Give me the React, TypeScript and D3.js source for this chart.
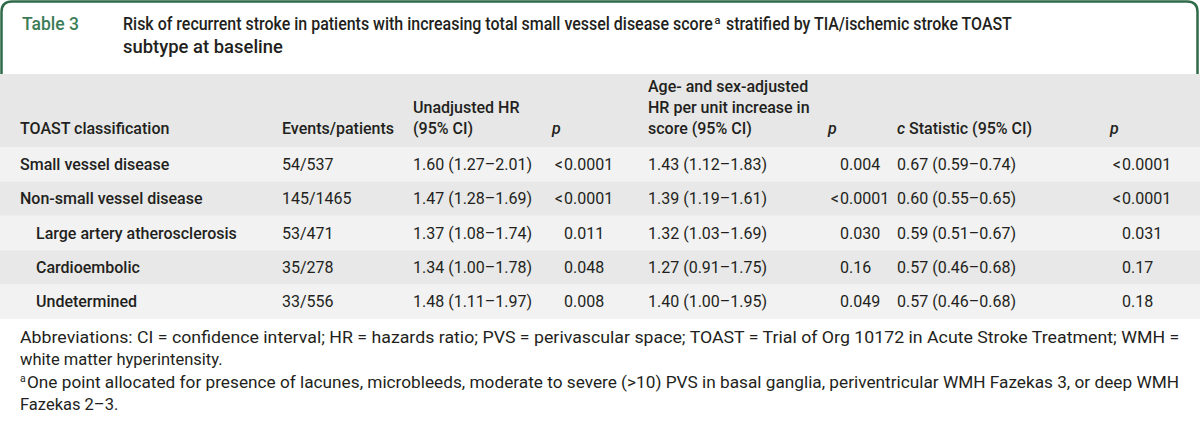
import React, { useLayoutEffect, useRef, useState } from "react";
import * as d3 from "d3";

const categories = [
  "Small vessel disease",
  "Non-small vessel disease",
  "Large artery atherosclerosis",
  "Cardioembolic",
  "Undetermined",
];
const subgroupFlags = [false, false, true, true, true];
const eventsPatients = ["54/537", "145/1465", "53/471", "35/278", "33/556"];
const unadjustedHR = [
  "1.60 (1.27–2.01)",
  "1.47 (1.28–1.69)",
  "1.37 (1.08–1.74)",
  "1.34 (1.00–1.78)",
  "1.48 (1.11–1.97)",
];
const unadjustedP = ["<0.0001", "<0.0001", "0.011", "0.048", "0.008"];
const adjustedHR = [
  "1.43 (1.12–1.83)",
  "1.39 (1.19–1.61)",
  "1.32 (1.03–1.69)",
  "1.27 (0.91–1.75)",
  "1.40 (1.00–1.95)",
];
const adjustedP = ["0.004", "<0.0001", "0.030", "0.16", "0.049"];
const cStatistic = [
  "0.67 (0.59–0.74)",
  "0.60 (0.55–0.65)",
  "0.59 (0.51–0.67)",
  "0.57 (0.46–0.68)",
  "0.57 (0.46–0.68)",
];
const cStatisticP = ["<0.0001", "<0.0001", "0.031", "0.17", "0.18"];

const columnKeys = ["class", "events", "uhr", "up", "ahr", "ap", "cs", "cp"];

const W = 1200;
const H = 421;
const FONT = "Roboto, 'Liberation Sans', Arial, sans-serif";
const TEXT = "#231f20";
const GREEN = "#2f6b48";

function FitText(props: any) {
  const { x, y, width, children, ...rest } = props;
  const ref = useRef<SVGTextElement>(null);
  const [sx, setSx] = useState(1);
  useLayoutEffect(() => {
    if (ref.current) {
      const w = ref.current.getComputedTextLength();
      if (w > 0) setSx(width / w);
    }
  }, [width]);
  return (
    <text ref={ref} transform={`translate(${x},${y}) scale(${sx},1)`} {...rest}>
      {children}
    </text>
  );
}

export default function App() {
  const x = d3
    .scaleOrdinal<string, number>()
    .domain(columnKeys)
    .range([20, 282, 413, 552, 648, 828, 897, 1110]);
  const y = d3.scaleBand<string>().domain(categories).range([147, 319]).padding(0);
  const lessW = 12;

  const pCell = (val: string, col: string, yy: number, key: string) => {
    const x0 = x(col) + lessW;
    if (val.startsWith("<")) {
      return (
        <g key={key}>
          <text x={x0 - 1} y={yy} textAnchor="end">{"<"}</text>
          <text x={x0} y={yy}>{val.slice(1)}</text>
        </g>
      );
    }
    return <text key={key} x={x0} y={yy}>{val}</text>;
  };

  return (
    <svg
      width={W}
      height={H}
      style={{ position: "absolute", left: 0, top: 0, background: "#fff" }}
      fontFamily={FONT}
    >
      {/* title box */}
      <path
        d={`M1.5,74 L1.5,12 Q1.5,1.5 12,1.5 L1187,1.5 Q1197.5,1.5 1197.5,12 L1197.5,74`}
        fill="#fff"
        stroke={GREEN}
        strokeWidth={2.5}
      />
      <text x={22} y={30} fill="#3b7d57" fontSize={17.5} fontWeight={500}>
        Table 3
      </text>
      <g fill={TEXT} fontSize={17.5} fontWeight={500}>
        <FitText x={123} y={30} width={590}>
          Risk of recurrent stroke in patients with increasing total small vessel disease score
        </FitText>
        <text x={714.5} y={24} fontSize={11}>a</text>
        <FitText x={726} y={30} width={286}>
          stratified by TIA/ischemic stroke TOAST
        </FitText>
        <FitText x={123} y={53} width={160}>
          subtype at baseline
        </FitText>
      </g>

      {/* header band */}
      <rect x={0} y={74} width={W} height={73} fill="#e6e7e6" />
      <g fill={TEXT} fontSize={16} fontWeight={500}>
        <text x={x("class")} y={134}>TOAST classification</text>
        <text x={x("events")} y={134}>Events/patients</text>
        <text x={x("uhr")} y={113}>Unadjusted HR</text>
        <text x={x("uhr")} y={134}>(95% CI)</text>
        <text x={x("up")} y={134} fontStyle="italic">p</text>
        <text x={x("ahr")} y={92}>Age- and sex-adjusted</text>
        <text x={x("ahr")} y={113}>HR per unit increase in</text>
        <text x={x("ahr")} y={134}>score (95% CI)</text>
        <text x={x("ap")} y={134} fontStyle="italic">p</text>
        <text x={x("cs")} y={134}>
          <tspan fontStyle="italic">c</tspan> Statistic (95% CI)
        </text>
        <text x={x("cp")} y={134} fontStyle="italic">p</text>
      </g>

      {/* rows */}
      {categories.map((c, i) => {
        const y0 = y(c)!;
        const bh = y.bandwidth();
        const ty = y0 + bh / 2 + 5.5;
        return (
          <g key={c}>
            <rect x={0} y={y0} width={W} height={bh} fill={i % 2 === 0 ? "#f2f2f2" : "#e7e8e7"} />
            <g fill={TEXT} fontSize={16}>
              <text x={x("class") + (subgroupFlags[i] ? 16 : 0)} y={ty} fontWeight={500}>{c}</text>
              <text x={x("events")} y={ty}>{eventsPatients[i]}</text>
              <text x={x("uhr")} y={ty}>{unadjustedHR[i]}</text>
              {pCell(unadjustedP[i], "up", ty, "up")}
              <text x={x("ahr")} y={ty}>{adjustedHR[i]}</text>
              {pCell(adjustedP[i], "ap", ty, "ap")}
              <text x={x("cs")} y={ty}>{cStatistic[i]}</text>
              {pCell(cStatisticP[i], "cp", ty, "cp")}
            </g>
          </g>
        );
      })}

      {/* footnotes */}
      <g fill={TEXT} fontSize={16.5}>
        <FitText x={20} y={343} width={1160}>
          Abbreviations: CI = confidence interval; HR = hazards ratio; PVS = perivascular space; TOAST = Trial of Org 10172 in Acute Stroke Treatment; WMH =
        </FitText>
        <text x={20} y={365}>white matter hyperintensity.</text>
        <text x={20} y={382} fontSize={10.5}>a</text>
        <FitText x={27} y={388} width={1153}>
          One point allocated for presence of lacunes, microbleeds, moderate to severe (&gt;10) PVS in basal ganglia, periventricular WMH Fazekas 3, or deep WMH
        </FitText>
        <text x={20} y={410}>Fazekas 2–3.</text>
      </g>
    </svg>
  );
}
